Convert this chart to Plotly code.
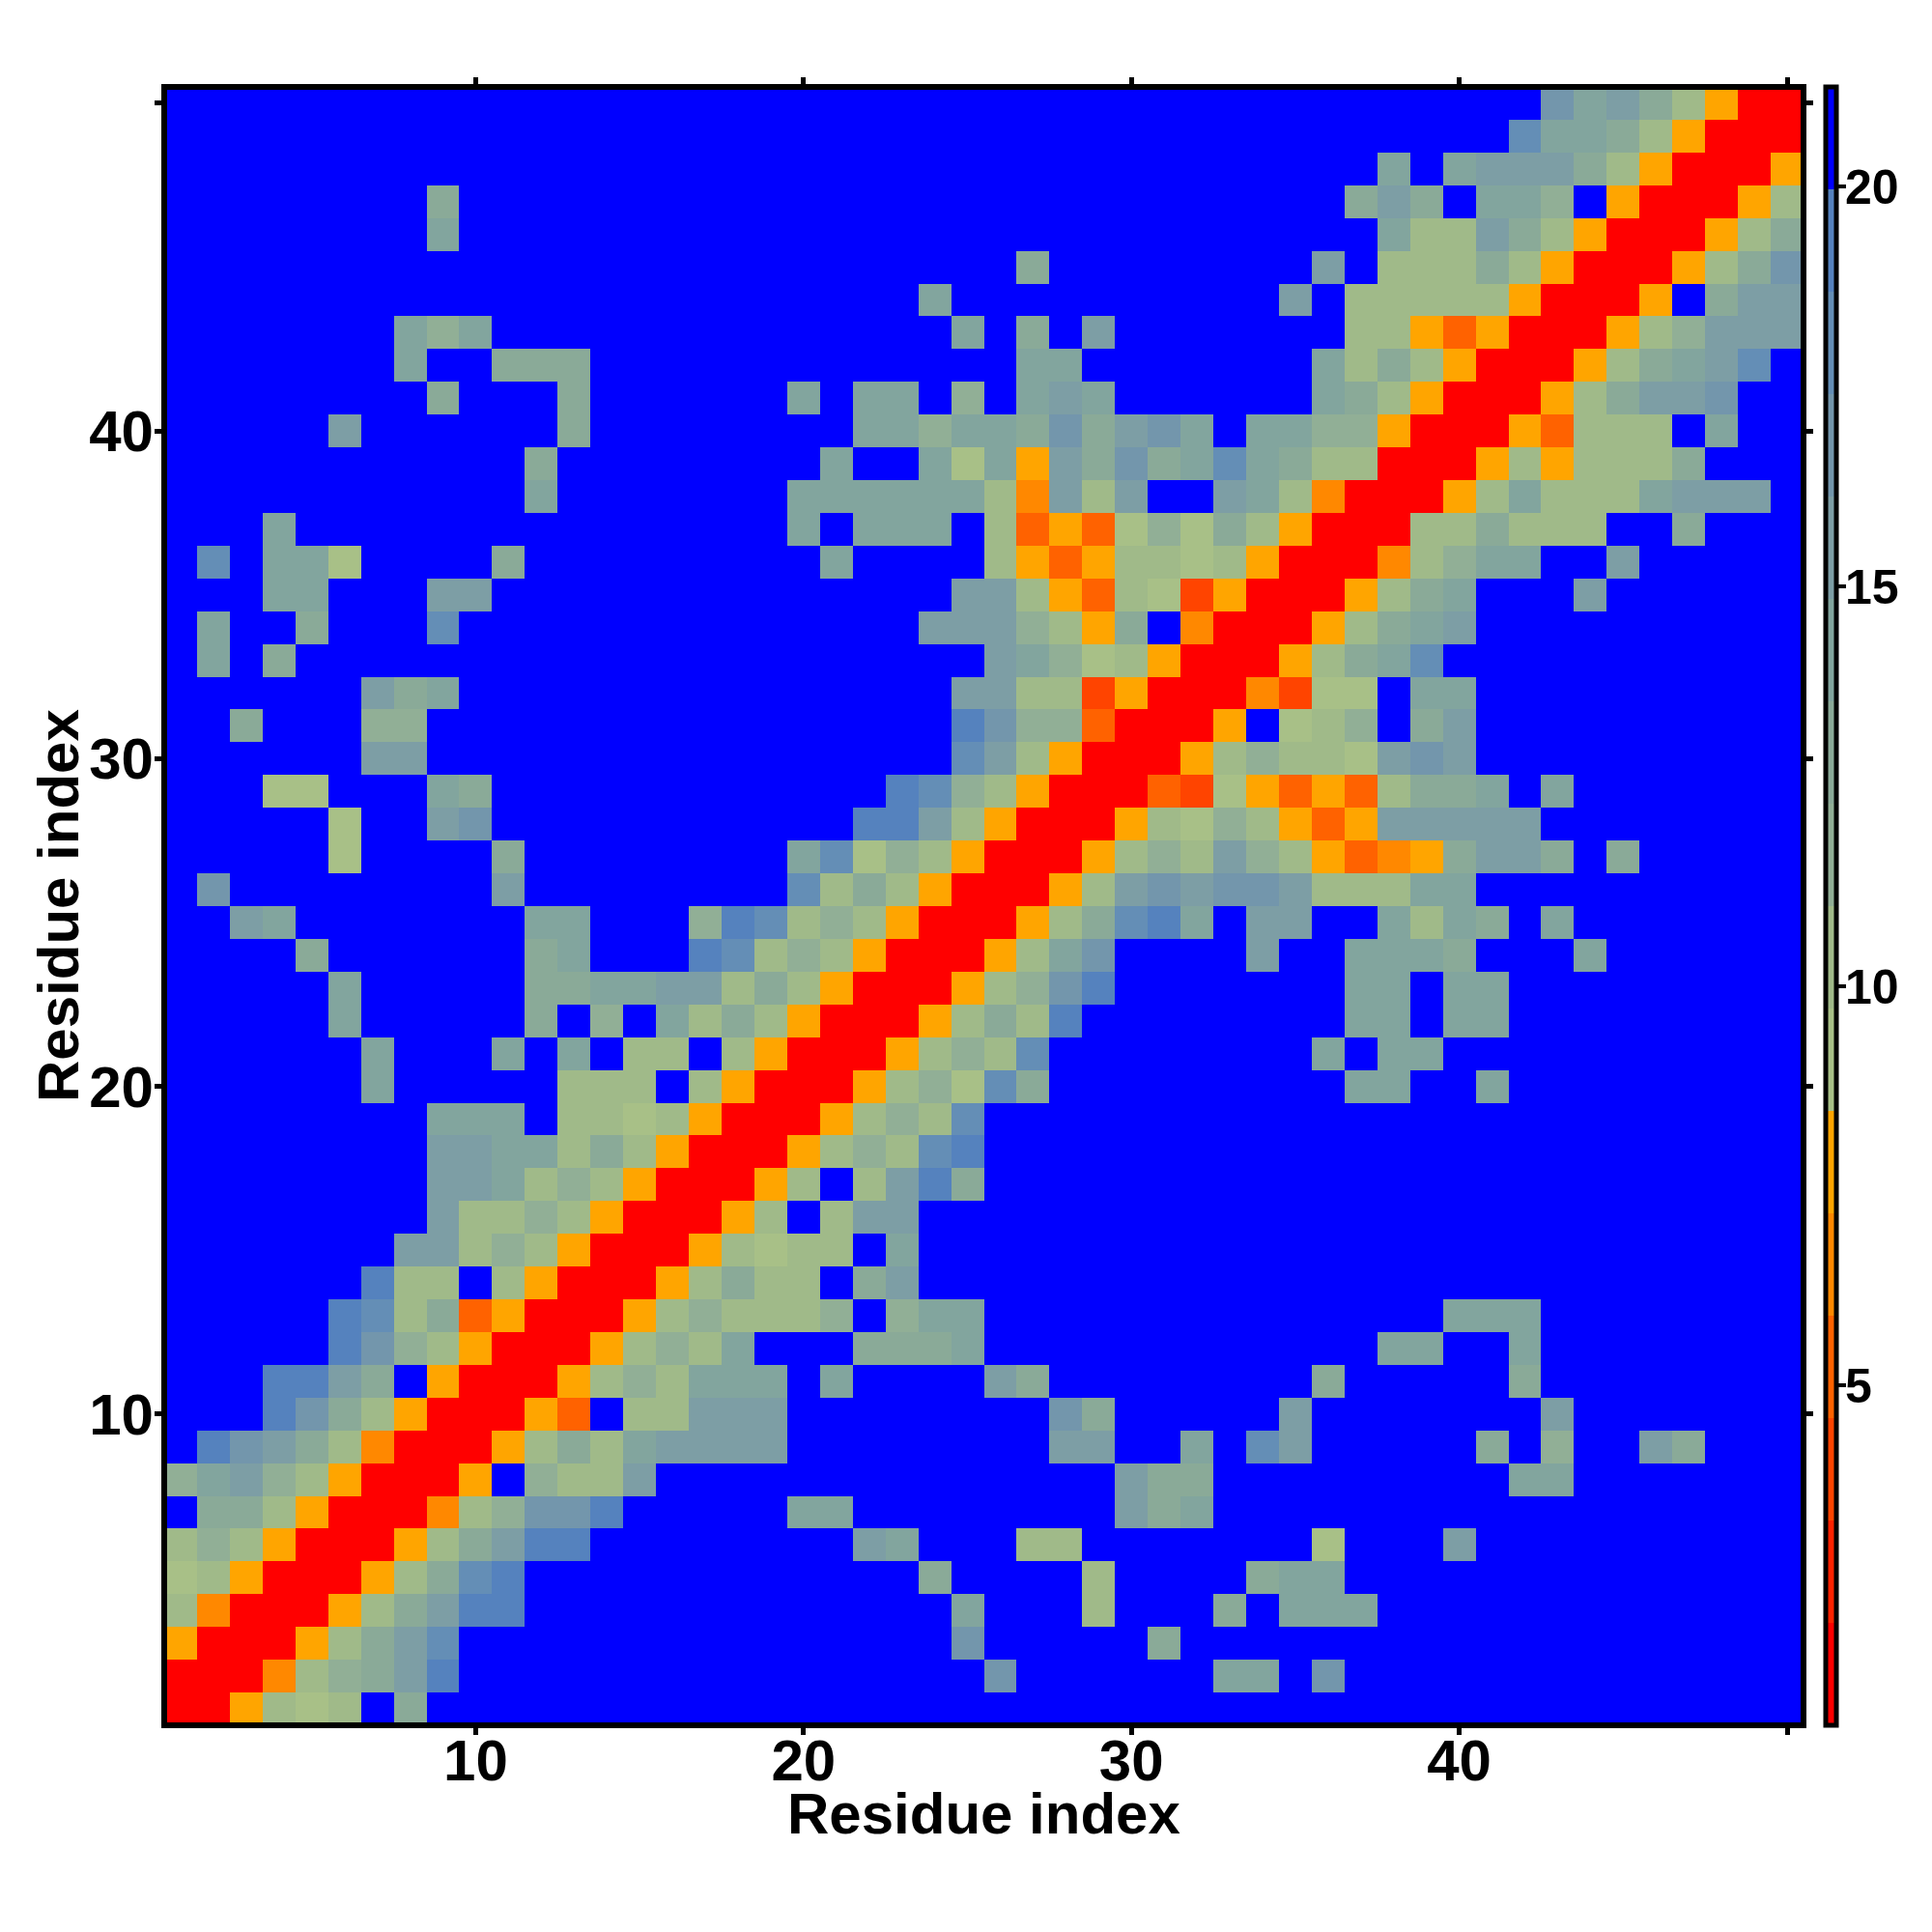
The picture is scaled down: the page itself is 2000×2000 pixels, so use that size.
import plotly.graph_objects as go

# Each row is one residue index (top row = 50), one character per column 1..50.
ROWS = [
 ".......... .......... .......... .......... ..mkljhfRR",  # 50
 ".......... .......... .......... .......... .nkkjhfRRR",  # 49
 ".......... .......... .......... .......k.k llljhfRRRf",  # 48
 "........j. .......... .......... ......jlj. kki.fRRRfh",  # 47
 "........k. .......... .......... .......khh ljhfRRRfhj",  # 46
 ".......... .......... ......j... .....l.hhh jhfRRRfhjm",  # 45
 ".......... .......... ...k...... ....l.hhhh hfRRRf.jll",  # 44
 ".......kik .......... ....k.j.l. ......hhfd fRRRfhilll",  # 43
 ".......k.. jjj....... ......kk.. .....khjhf RRRfhjkln.",  # 42
 "........j. ..j......k .kk.i.klk. .....kjhfR RRfhjllm..",  # 41
 ".....l.... ..j....... .kkikkjmjl mk.kkiifRR Rfdhhh.k..",  # 40
 ".......... .j........ k..kgkfljm jknkjhhRRR fhfhhhj...",  # 39
 ".......... .k.......k kkkkkhelhl ..lkheRRRf hkhhhklll.",  # 38
 "...k...... .........k .kkk.hdfdg igjhfRRRhh jhhh..j...",  # 37
 ".n.kkg.... j......... k....hfdfh hghfRRRehi kk..l.....",  # 36
 "...kk...ll .......... ....llhfdh gcfRRRfhjk ...l......",  # 35
 ".k..j...n. .......... ...lllihfj .eRRRfhjkl ..........",  # 34
 ".k.j...... .......... .....lkigh fRRRfhjkn. ..........",  # 33
 "......ljk. .......... ....llhhcf RRRecgg.kk ..........",  # 32
 "..j...ii.. .......... ....omiidR RRf.ghi.jl ..........",  # 31
 "......ll.. .......... ....nlhfRR Rfhihhglml ..........",  # 30
 "...gg...kj .......... ..onihfRRR dcgfdfdhjj k.k.......",  # 29
 ".....g..lm .......... .oolhfRRRf hgihfdflll ll........",  # 28
 ".....g.... j........k ngihfRRRfh ihlihfdefj llj.j.....",  # 27
 ".m........ l........n hjhfRRRfhl mlmmlhhhkk ..........",  # 26
 "..lk...... .kk...ionh ihfRRRfhjn ok.ll..khk j.k.......",  # 25
 "....j..... .jk...onhi hfRRRfhkm. ...l..kkkj ...k......",  # 24
 ".....k.... .jjkkllhjh fRRRfhimo. ......kk.k k.........",  # 23
 ".....k.... .j.i.khjhf RRRfhjho.. ......kk.k k.........",  # 22
 "......k... k.k.hh.hfR RRfhihn... .....k.kk. ..........",  # 21
 "......k... ..hhh.hfRR Rfhignj... ......kk.. k.........",  # 20
 "........kk k.hhghfRRR fhihn..... .......... ..........",  # 19
 "........ll kkhjhfRRRf hihno..... .......... ..........",  # 18
 "........ll khihfRRRfh .hloj..... .......... ..........",  # 17
 "........lh hihfRRRfh. hll....... .......... ..........",  # 16
 ".......llh ihfRRRfhgh h.k....... .......... ..........",  # 15
 "......ohh. hfRRRfhjhh .jl....... .......... ..........",  # 14
 ".....onhjd fRRRfhihhh i.ikk..... .........k kk........",  # 13
 ".....omihf RRRfhihk.. .jjjk..... .......kk. .k........",  # 12
 "...oolj.fR RRfhihkkk. k....lj... .....j.... .j........",  # 11
 "...omjhfRR Rfd.hhlll. .......mj. ....l..... ..l.......",  # 10
 ".omljheRRR fhjhkllll. .......ll. .k.nl..... j.i..lj...",  # 9
 "iklihfRRRf .ihhl..... .........l jj........ .kk.......",  # 8
 ".jjhfRRReh immo.....k k........l jk........ ..........",  # 7
 "hihfRRRfhj loo....... .lk...hh.. .....g...l ..........",  # 6
 "ghfRRRfhjn o......... ...j....h. ...jkk.... ..........",  # 5
 "heRRRfhjlo o......... ....k...h. ..j.kkk... ..........",  # 4
 "fRRRfhjln. .......... ....m..... j......... ..........",  # 3
 "RRRehijlo. .......... .....m.... ..kk.m.... ..........",  # 2
 "RRfhgh.j.. .......... .......... .......... ..........",  # 1
]
CODES = ["R", "b", "c", "d", "e", "f", "g", "h", "i", "j", "k", "l", "m", "n", "o", "."]
DISTANCES = [1.39, 2.67, 3.95, 5.23, 6.52, 7.8, 9.08, 10.36, 11.64, 12.92, 14.2, 15.48, 16.77, 18.05, 19.33, 20.61]
BAND_COLORS = ["#ff0000", "#ff2200", "#ff4400", "#ff6200", "#ff8800", "#ffa500",
               "#a8c087", "#a0ba89", "#91af96", "#8aaa98", "#82a59e", "#7d9ea5",
               "#7396ac", "#648eb6", "#5582be", "#0000ff"]
ZMIN, ZMAX = 0.75, 21.25
RESIDUES = list(range(1, 51))
TICKS = [10, 20, 30, 40, 50]
TICK_TEXT = ["10", "20", "30", "40", ""]
BAR_TICKS = [5, 10, 15, 20]

value_of = dict(zip(CODES, DISTANCES))
z = []
for row in reversed(ROWS):
    cells = row.replace(" ", "")
    assert len(cells) == 50, row
    z.append([value_of[c] for c in cells])

n = len(BAND_COLORS)
colorscale = []
for i, col in enumerate(BAND_COLORS):
    colorscale.append([i / n, col])
    colorscale.append([(i + 1) / n, col])

FONT = "Liberation Sans"
fig = go.Figure(go.Heatmap(
    x=RESIDUES, y=RESIDUES, z=z, zmin=ZMIN, zmax=ZMAX, colorscale=colorscale,
    colorbar=dict(
        x=1.0133, xanchor="left", xpad=0, ypad=0, y=0.5, yanchor="middle", len=1.0, lenmode="fraction",
        thickness=11, thicknessmode="pixels", outlinewidth=5, outlinecolor="black", borderwidth=0,
        tickmode="array", tickvals=BAR_TICKS, showticklabels=False,
        ticks="outside", ticklen=8, tickwidth=4, tickcolor="black",
    ),
))
axis = dict(
    range=[0.5, 50.5], tickmode="array", tickvals=TICKS, ticktext=TICK_TEXT,
    ticks="outside", ticklen=9, tickwidth=5, tickcolor="black",
    showline=False, mirror="ticks",
    showgrid=False, zeroline=False,
    tickfont=dict(family=FONT, size=60, color="black", weight=700),
)
TITLE_FONT = dict(family=FONT, size=60, color="black", weight=700)
annotations = [
    dict(text="Residue index", xref="paper", yref="paper", x=0.5, y=0, xanchor="center", yanchor="middle",
         yshift=-91, showarrow=False, font=TITLE_FONT),
    dict(text="Residue index", xref="paper", yref="paper", x=0, y=0.5, xanchor="center", yanchor="middle",
         xshift=-110, textangle=-90, showarrow=False, font=TITLE_FONT),
]
for v in BAR_TICKS:
    annotations.append(dict(
        text=str(v), xref="paper", yref="paper", x=1.0250, y=(v - ZMIN) / (ZMAX - ZMIN),
        xanchor="left", yanchor="middle", yshift=-1, showarrow=False, borderpad=0,
        font=dict(family=FONT, size=50, color="black", weight=700),
    ))
fig.update_layout(
    width=1992, height=1992, autosize=False,
    margin=dict(l=162, r=133, t=82, b=214, pad=0),
    paper_bgcolor="white", plot_bgcolor="white",
    xaxis=dict(axis, ticklabelstandoff=-25),
    yaxis=dict(axis, ticklabelstandoff=-11),
    annotations=annotations,
    shapes=[dict(type="rect", xref="paper", yref="paper", x0=0, x1=1, y0=0, y1=1,
                 line=dict(color="black", width=6), layer="above")],
)
fig.write_html("out.html")
